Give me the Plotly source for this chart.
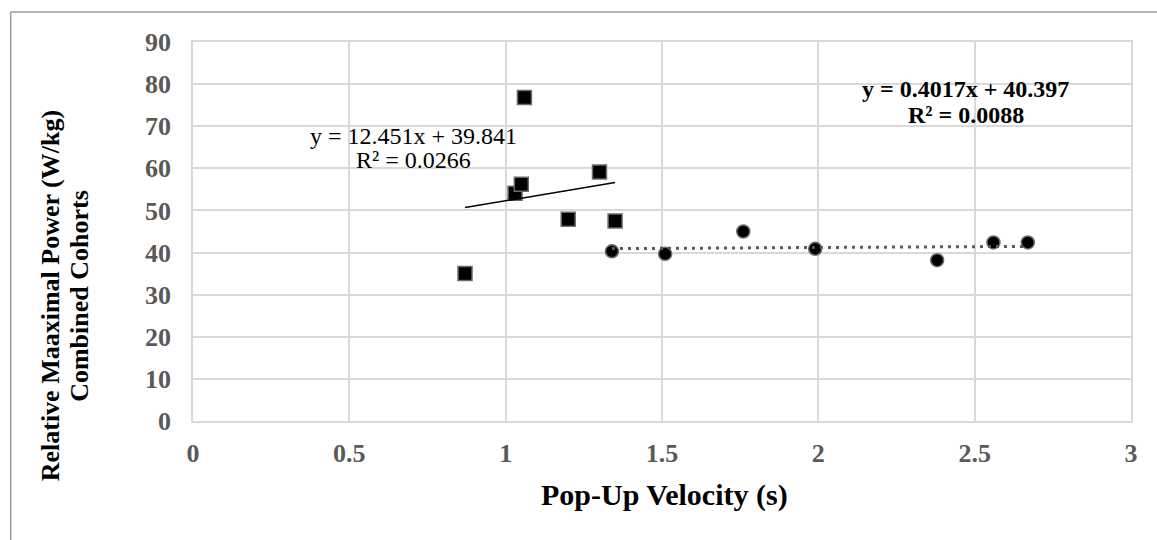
import plotly.graph_objects as go

# Cohort 1 (squares)
c1_x = [0.87, 1.03, 1.05, 1.06, 1.20, 1.30, 1.35]
c1_y = [35.0, 54.1, 56.2, 76.8, 47.9, 59.1, 47.5]
# Cohort 2 (circles)
c2_x = [1.34, 1.51, 1.76, 1.99, 2.38, 2.56, 2.67]
c2_y = [40.3, 39.7, 45.0, 40.9, 38.2, 42.4, 42.4]

# Linear trendlines (from the chart's equations)
c1_slope, c1_intercept = 12.451, 39.841
c2_slope, c2_intercept = 0.4017, 40.397

x_ticks = [0, 0.5, 1, 1.5, 2, 2.5, 3]
x_tick_labels = ["0", "0.5", "1", "1.5", "2", "2.5", "3"]
y_ticks = [0, 10, 20, 30, 40, 50, 60, 70, 80, 90]

eq1_lines = ["y = 12.451x + 39.841", "R² = 0.0266"]
eq2_lines = ["<b>y = 0.4017x + 40.397</b>", "<b>R² = 0.0088</b>"]

FONT = "Liberation Serif, Times New Roman, serif"

W, H = 1157, 540
L, R, T, B = 193.3, 26, 42, 118.5
pw = W - L - R
ph = H - T - B


def px(xp):
    return (xp - L) / pw


def py(yp):
    return (H - B - yp) / ph


fig = go.Figure()

fig.add_trace(go.Scatter(
    x=c1_x, y=c1_y, mode="markers",
    marker=dict(symbol="square", size=14, color="black",
                line=dict(color="#6b6b6b", width=1.5)),
    showlegend=False, hoverinfo="x+y"))

fig.add_trace(go.Scatter(
    x=c2_x, y=c2_y, mode="markers",
    marker=dict(symbol="circle", size=13, color="black",
                line=dict(color="#6b6b6b", width=1.5)),
    showlegend=False, hoverinfo="x+y"))

t1x = [min(c1_x), max(c1_x)]
t1y = [c1_slope * v + c1_intercept for v in t1x]
fig.add_trace(go.Scatter(x=t1x, y=t1y, mode="lines",
                         line=dict(color="black", width=1.5),
                         showlegend=False, hoverinfo="skip"))

t2x = [min(c2_x), max(c2_x)]
t2y = [c2_slope * v + c2_intercept for v in t2x]
fig.add_trace(go.Scatter(x=t2x, y=t2y, mode="lines",
                         line=dict(color="#595959", width=3, dash="3px,5px"),
                         showlegend=False, hoverinfo="skip"))

annotations = [
    dict(x=0.706, y=67.6, xref="x", yref="y", text=eq1_lines[0], showarrow=False,
         font=dict(family=FONT, size=24, color="black"), xanchor="center", yanchor="middle"),
    dict(x=0.706, y=62.0, xref="x", yref="y", text=eq1_lines[1], showarrow=False,
         font=dict(family=FONT, size=24, color="black"), xanchor="center", yanchor="middle"),
    dict(x=2.472, y=78.75, xref="x", yref="y", text=eq2_lines[0], showarrow=False,
         font=dict(family=FONT, size=24, color="black"), xanchor="center", yanchor="middle"),
    dict(x=2.472, y=72.6, xref="x", yref="y", text=eq2_lines[1], showarrow=False,
         font=dict(family=FONT, size=24, color="black"), xanchor="center", yanchor="middle"),
    # axis titles
    dict(x=px(665), y=py(496), xref="paper", yref="paper",
         text="<b>Pop-Up Velocity (s)</b>", showarrow=False,
         font=dict(family=FONT, size=30, color="black"), xanchor="center", yanchor="middle"),
    dict(x=px(51), y=py(296), xref="paper", yref="paper",
         text="<b>Relative Maaximal Power (W/kg)</b>", showarrow=False, textangle=-90,
         font=dict(family=FONT, size=26, color="black"), xanchor="center", yanchor="middle"),
    dict(x=px(80.5), y=py(296), xref="paper", yref="paper",
         text="<b>Combined Cohorts</b>", showarrow=False, textangle=-90,
         font=dict(family=FONT, size=26, color="black"), xanchor="center", yanchor="middle"),
]

shapes = [
    dict(type="line", xref="paper", yref="paper", x0=px(11), x1=px(1160),
         y0=py(12), y1=py(12), line=dict(color="#9a9a9a", width=1.5)),
    dict(type="line", xref="paper", yref="paper", x0=px(11), x1=px(11),
         y0=py(12), y1=py(545), line=dict(color="#9a9a9a", width=1.5)),
]

fig.update_layout(
    width=W, height=H,
    margin=dict(l=L, r=R, t=T, b=B, pad=0),
    paper_bgcolor="white", plot_bgcolor="white",
    annotations=annotations, shapes=shapes,
    xaxis=dict(range=[0, 3], tickvals=x_ticks, ticktext=x_tick_labels,
               showgrid=True, gridcolor="#d9d9d9", gridwidth=1.5,
               showline=True, linecolor="#d9d9d9", linewidth=1.5, mirror=True,
               zeroline=False, ticks="", ticklabelstandoff=8,
               tickfont=dict(family=FONT, size=26, color="#595959", weight="bold")),
    yaxis=dict(range=[0, 90], tickvals=y_ticks,
               showgrid=True, gridcolor="#d9d9d9", gridwidth=1.5,
               showline=True, linecolor="#d9d9d9", linewidth=1.5, mirror=True,
               zeroline=False, ticks="", ticklabelstandoff=15,
               tickfont=dict(family=FONT, size=26, color="#595959", weight="bold")),
)

fig.write_html("out.html")
